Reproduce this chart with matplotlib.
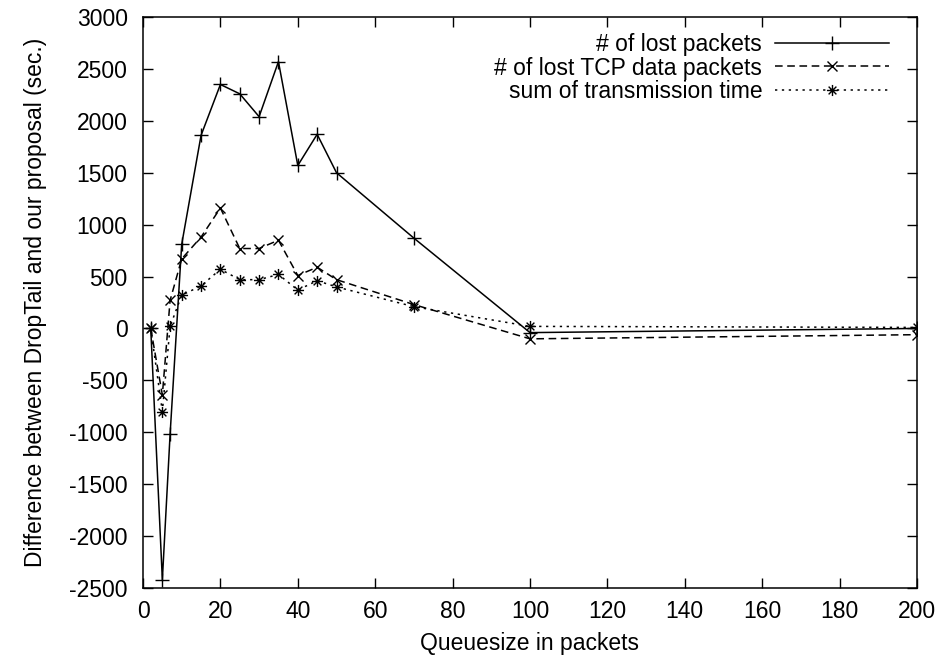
import matplotlib
matplotlib.use("Agg")
import matplotlib.pyplot as plt
from matplotlib.path import Path

plt.rcParams["font.family"] = ["Liberation Sans", "DejaVu Sans"]
plt.rcParams["axes.unicode_minus"] = False

queue_size = [2, 5, 7, 10, 15, 20, 25, 30, 35, 40, 45, 50, 70, 100, 200]
lost_packets = [0, -2420, -1020, 810, 1860, 2350, 2260, 2040, 2570, 1570, 1870, 1500, 870, -40, 0]
lost_tcp = [0, -640, 270, 670, 880, 1160, 770, 770, 850, 510, 590, 470, 230, -100, -60]
trans_time = [0, -800, 20, 320, 410, 570, 470, 470, 520, 370, 460, 400, 210, 20, 10]

labels = ["# of lost packets", "# of lost TCP data packets", "sum of transmission time"]

# gnuplot-style asterisk: + and x drawn over each other
_v = [(-1, 0), (1, 0), (0, -1), (0, 1), (-0.7, -0.7), (0.7, 0.7), (-0.7, 0.7), (0.7, -0.7)]
_c = [Path.MOVETO, Path.LINETO] * 4
asterisk = Path(_v, _c)

fig = plt.figure(figsize=(9.43, 6.60), dpi=100)
ax = fig.add_axes([143 / 943, 72 / 660, 774 / 943, 571 / 660])

lw = 1.1
ax.plot(queue_size, lost_packets, color="black", lw=lw, marker="+", ms=10, mew=1.0,
        label=labels[0])
ax.plot(queue_size, lost_tcp, color="black", lw=lw, ls=(0, (5, 3)), marker="x", ms=7, mew=1.0,
        label=labels[1])
ax.plot(queue_size, trans_time, color="black", lw=lw, ls=(0, (1.5, 3)), marker=asterisk, ms=8,
        mew=1.0, label=labels[2])

ax.set_xlim(0, 200)
ax.set_ylim(-2500, 3000)
ax.set_xticks(range(0, 201, 20))
ax.set_yticks(range(-2500, 3001, 500))
ax.tick_params(direction="in", length=7, width=1, top=True, right=True, labelsize=16.5)
ax.tick_params(axis="y", pad=11)
ax.tick_params(axis="x", pad=9)
for s in ax.spines.values():
    s.set_linewidth(1.1)

ax.set_xlabel("Queuesize in packets", fontsize=16.5, labelpad=6)
ax.set_ylabel("Difference between DropTail and our proposal (sec.)", fontsize=16.5, labelpad=16)

ax.legend(loc="upper right", frameon=False, markerfirst=False, fontsize=16.5,
          handlelength=5.0, handletextpad=0.55, labelspacing=0.02, borderaxespad=0.3,
          bbox_to_anchor=(0.985, 1.0))

fig.savefig("out.png", dpi=100)
